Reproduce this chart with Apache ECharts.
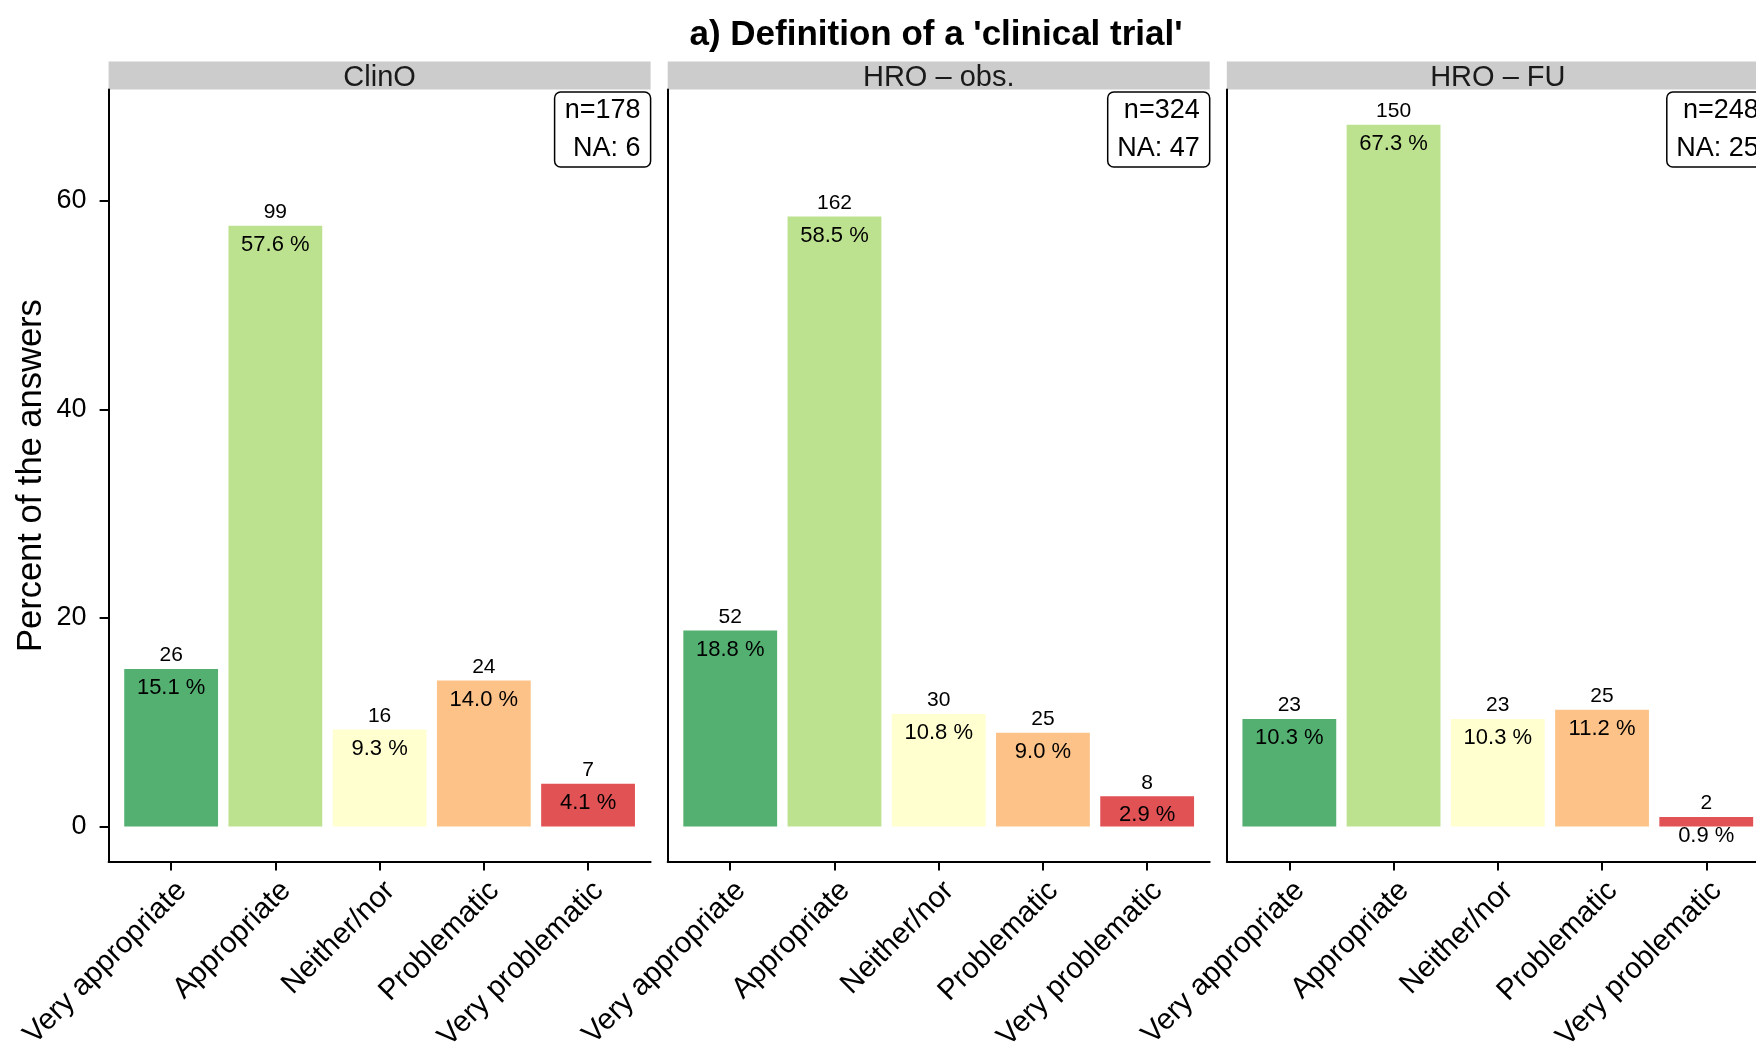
<!DOCTYPE html>
<html>
<head>
<meta charset="utf-8">
<title>Definition of a clinical trial</title>
<script src="https://cdn.jsdelivr.net/npm/echarts@6/dist/echarts.min.js"></script>
<style>
  html, body { margin: 0; padding: 0; background: #ffffff; }
  #chart { width: 1756px; height: 1046px; }
</style>
</head>
<body>
<div id="chart"></div>
<script>
// data
var panelNames = ['ClinO', 'HRO \u2013 obs.', 'HRO \u2013 FU'];
var categories = ['Very appropriate', 'Appropriate', 'Neither/nor', 'Problematic', 'Very problematic'];

var pctClinO = [15.1, 57.6, 9.3, 14.0, 4.1];
var cntClinO = [26, 99, 16, 24, 7];
var pctObs = [18.8, 58.5, 10.8, 9.0, 2.9];
var cntObs = [52, 162, 30, 25, 8];
var pctFU = [10.3, 67.3, 10.3, 11.2, 0.9];
var cntFU = [23, 150, 23, 25, 2];

var nTotal = [178, 324, 248];
var naCount = [6, 47, 25];
var yTicks = [0, 20, 40, 60];

// styles
var barColors = ['#53B071', '#BCE28F', '#FFFFCF', '#FDC288', '#E15255'];
var fontFam = 'Liberation Sans, Arial, sans-serif';

var pctList = [pctClinO, pctObs, pctFU];
var cntList = [cntClinO, cntObs, cntFU];

// ggplot-like expansion: 5% of the data range
var yMax = Math.max.apply(null, pctClinO.concat(pctObs, pctFU));
var yMin = -0.05 * yMax;
yMax = yMax * 1.05;

var panelLeft = [108.6, 667.7, 1226.8];
var panelW = 542;
var panelTop = 89.6;
var panelH = 772;
var catW = panelW / 5.2;

var grid = [], xAxis = [], yAxis = [], series = [], title = [];

title.push({
	text : "a) Definition of a 'clinical trial'",
	left : 931,
	top : 13,
	textAlign : 'center',
	textVerticalAlign : 'top',
	textStyle : {
		fontFamily : fontFam,
		fontSize : 35,
		fontWeight : 'bold',
		color : '#000'
	}
});

for (var i = 0; i < 3; i++) {
	var L = panelLeft[i];
	var g0 = i * 3;

	// frame (axis lines + y axis)
	grid.push({ left : L, top : panelTop, width : panelW, height : panelH, outerBoundsMode : 'none' });
	xAxis.push({
		gridIndex : g0, type : 'value', min : 0.4, max : 5.6,
		axisLine : { show : true, onZero : false, lineStyle : { color : '#000', width : 2 } },
		axisTick : { show : false }, axisLabel : { show : false }, splitLine : { show : false }
	});
	yAxis.push({
		gridIndex : g0, type : 'value', min : yMin, max : yMax,
		name : i === 0 ? 'Percent of the answers' : '',
		nameLocation : 'middle',
		nameGap : 60,
		nameTextStyle : { fontFamily : fontFam, fontSize : 34.5, color : '#000' },
		axisLine : { show : true, onZero : false, lineStyle : { color : '#000', width : 2 } },
		axisTick : {
			show : i === 0, length : 9, customValues : yTicks,
			lineStyle : { color : '#000', width : 2 }
		},
		axisLabel : {
			show : i === 0, customValues : yTicks, margin : 22,
			fontFamily : fontFam, fontSize : 27, color : '#000'
		},
		splitLine : { show : false }
	});

	// bars
	grid.push({ left : L + 0.1 * catW, top : panelTop, width : 5 * catW, height : panelH, outerBoundsMode : 'none' });
	xAxis.push({
		gridIndex : g0 + 1, type : 'category', data : categories,
		axisLine : { show : false, onZero : false },
		axisTick : { show : true, alignWithLabel : true, length : 9, lineStyle : { color : '#000', width : 2 } },
		axisLabel : {
			rotate : 45, margin : 14, interval : 0,
			align : 'right',
			verticalAlign : 'top',
			fontFamily : fontFam, fontSize : 29.5, color : '#000'
		}
	});
	yAxis.push({ gridIndex : g0 + 1, type : 'value', min : yMin, max : yMax, show : false });

	series.push({
		type : 'bar',
		xAxisIndex : g0 + 1,
		yAxisIndex : g0 + 1,
		barWidth : '90%',
		barGap : '-100%',
		data : pctList[i].map(function(v, k) {
			return { value : v, itemStyle : { color : barColors[k] } };
		}),
		label : {
			show : true,
			position : 'insideTop',
			distance : 8,
			fontFamily : fontFam,
			fontSize : 22,
			color : '#000',
			formatter : function(p) {
				return p.value.toFixed(1) + ' %';
			}
		},
		silent : true
	});
	(function(cnt) {
		series.push({
			type : 'bar',
			xAxisIndex : g0 + 1,
			yAxisIndex : g0 + 1,
			barWidth : '90%',
			barGap : '-100%',
			data : pctList[i],
			itemStyle : { color : 'rgba(0,0,0,0)' },
			label : {
				show : true,
				position : 'top',
				distance : 3,
				fontFamily : fontFam,
				fontSize : 21,
				color : '#000',
				formatter : function(p) {
					return String(cnt[p.dataIndex]);
				}
			},
			silent : true
		});
	})(cntList[i]);

	// strip
	grid.push({
		left : L, top : 61.6, width : panelW, height : 28, outerBoundsMode : 'none',
		show : true, backgroundColor : '#CCCCCC', borderWidth : 0
	});
	xAxis.push({ gridIndex : g0 + 2, type : 'value', show : false });
	yAxis.push({ gridIndex : g0 + 2, type : 'value', show : false });

	title.push({
		text : panelNames[i],
		left : L + panelW / 2,
		top : 63.5,
		padding : 0,
		textAlign : 'center',
		textVerticalAlign : 'top',
		textStyle : { fontFamily : fontFam, fontSize : 29, color : '#1A1A1A', fontWeight : 'normal' }
	});

	// n / NA box
	title.push({
		text : 'n=' + nTotal[i] + '\nNA: ' + naCount[i],
		left : L + panelW - 20,
		top : 92,
		padding : [0, 10, 0, 10],
		textAlign : 'right',
		textVerticalAlign : 'top',
		borderColor : '#000',
		borderWidth : 1.5,
		borderRadius : 6,
		backgroundColor : '#fff',
		textStyle : { fontFamily : fontFam, fontSize : 27, lineHeight : 37.5, color : '#000', fontWeight : 'normal' }
	});
}

var chart = echarts.init(document.getElementById('chart'), null, { renderer : 'canvas' });
chart.setOption({
	backgroundColor : '#ffffff',
	animation : false,
	title : title,
	grid : grid,
	xAxis : xAxis,
	yAxis : yAxis,
	series : series
});
</script>
</body>
</html>
